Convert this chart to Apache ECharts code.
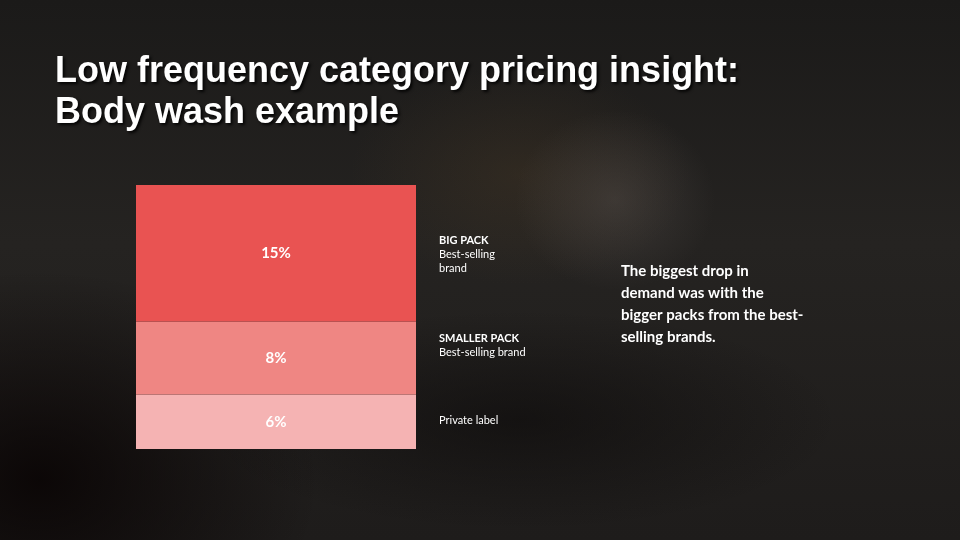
<!DOCTYPE html>
<html><head><meta charset="utf-8">
<script src="https://cdn.jsdelivr.net/npm/echarts@6/dist/echarts.min.js"></script>
<style>
html,body{margin:0;padding:0;width:960px;height:540px;overflow:hidden;}
body{background:
 radial-gradient(ellipse 100px 90px at 615px 200px, rgba(100,92,88,0.35), rgba(100,92,88,0) 100%),
 radial-gradient(ellipse 170px 110px at 520px 175px, rgba(90,68,40,0.25), rgba(0,0,0,0) 100%),
 radial-gradient(ellipse 280px 210px at 40px 480px, rgba(8,3,3,0.85), rgba(8,3,3,0) 100%),
 radial-gradient(ellipse 320px 110px at 520px 420px, rgba(10,8,8,0.55), rgba(0,0,0,0) 100%),
 linear-gradient(180deg, #1b1a19 0%, #252321 45%, #1e1c1b 100%);}
#c{width:960px;height:540px;}
</style></head>
<body><div id="c"></div>
<script>
var categories = ['Body wash'];
var segmentNames = ['Private label', 'SMALLER PACK', 'BIG PACK'];
var privateLabel = [6];
var smallerPack = [8];
var bigPack = [15];
var titleLines = ['Low frequency category pricing insight:', 'Body wash example'];
var noteText = 'The biggest drop in\ndemand was with the\nbigger packs from the best-\nselling brands.';

var chart = echarts.init(document.getElementById('c'), null, {renderer: 'canvas'});
var lbl = {show: true, position: 'inside', color: '#ffffff', fontFamily: 'Lato', fontWeight: 'bold', fontSize: 15, formatter: '{c}%'};
function seg(name, data, color) {
  return {name: name, type: 'bar', stack: 'total', data: data, barWidth: '100%',
    itemStyle: {color: color}, label: lbl, emphasis: {disabled: true}};
}
var sideFont = {fontFamily: 'Lato', fontSize: 11, fill: '#ffffff', lineHeight: 14};
var titleStyle = {x: 0, y: 0, verticalAlign: 'middle',
  font: 'bold 36px "Liberation Sans", Arial, sans-serif', fill: '#ffffff',
  textShadowColor: 'rgba(0,0,0,0.85)', textShadowBlur: 3, textShadowOffsetX: 2, textShadowOffsetY: 2};
chart.setOption({
  backgroundColor: 'transparent',
  animation: false,
  grid: {left: 136, top: 185, width: 280, height: 264},
  xAxis: {type: 'category', data: categories, show: false},
  yAxis: {type: 'value', min: 0, max: 29, show: false},
  series: [
    seg(segmentNames[0], privateLabel, '#f5b3b3'),
    seg(segmentNames[1], smallerPack, '#ef8683'),
    seg(segmentNames[2], bigPack, '#e95352')
  ],
  graphic: [
    {type: 'text', x: 55, y: 72, style: Object.assign({text: titleLines[0]}, titleStyle)},
    {type: 'text', x: 55, y: 113, style: Object.assign({text: titleLines[1]}, titleStyle)},
    {type: 'text', x: 439, y: 233, style: Object.assign({text: '{b|BIG PACK}\nBest-selling\nbrand', verticalAlign: 'top',
      rich: {b: {fontFamily: 'Lato', fontWeight: 'bold', fontSize: 11, color: '#ffffff', lineHeight: 14}}}, sideFont)},
    {type: 'text', x: 439, y: 331, style: Object.assign({text: '{b|SMALLER PACK}\nBest-selling brand', verticalAlign: 'top',
      rich: {b: {fontFamily: 'Lato', fontWeight: 'bold', fontSize: 11, color: '#ffffff', lineHeight: 14}}}, sideFont)},
    {type: 'text', x: 439, y: 413, style: Object.assign({text: segmentNames[0], verticalAlign: 'top'}, sideFont)},
    {type: 'text', x: 621, y: 260, style: {text: noteText, verticalAlign: 'top', fontFamily: 'Lato', fontWeight: 'bold',
      fontSize: 15, lineHeight: 22, fill: '#ffffff'}}
  ]
});
</script></body></html>
